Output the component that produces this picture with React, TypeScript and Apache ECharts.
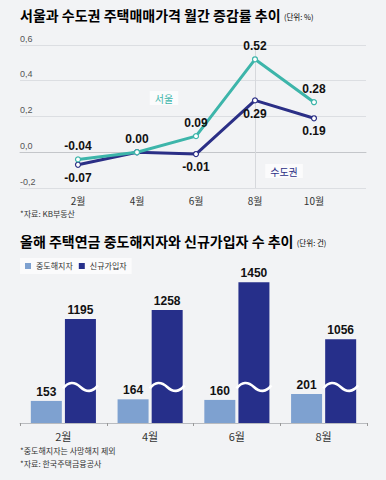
import React, { useEffect, useRef } from "react";
import * as echarts from "echarts";

// ---- Top chart data ----
const MONTHS = ["2월", "4월", "6월", "8월", "10월"];
const SEOUL = [-0.04, 0.0, 0.09, 0.52, 0.28];
const METRO = [-0.07, 0.0, -0.01, 0.29, 0.19];
const Y_MIN = -0.2;
const Y_MAX = 0.6;
const Y_STEP = 0.2;

// ---- Bottom chart data ----
const BAR_MONTHS = ["2월", "4월", "6월", "8월"];
const CANCELLED = [153, 164, 160, 201];
const NEW_JOINERS = [1195, 1258, 1450, 1056];
const BREAK_AT = 250; // where the wave is drawn on the broken bars
const BREAK_SHIFT = 475; // amount removed from the broken bars

const BG = "#f2f3f5";
const TEAL = "#3db5aa";
const NAVY = "#2b2f86";
const BAR_LIGHT = "#7ea1d0";
const BAR_DARK = "#262f8a";
const KR = '"Noto Sans CJK KR", "Noto Sans", sans-serif';
const NUM = '"Liberation Sans", Arial, "Noto Sans CJK KR", sans-serif';

const BAR_W = 31;
const BAR_GAP_RATIO = 0.1;

export default function App() {
  const ref = useRef<HTMLDivElement>(null);

  useEffect(() => {
    document.body.style.margin = "0";
    document.body.style.background = BG;
    if (!ref.current) return;
    const chart = echarts.init(ref.current, undefined, { renderer: "svg" });

    const numLabel = {
      fontFamily: NUM,
      fontWeight: "bold" as const,
      fontSize: 12,
      color: "#111",
    };

    const option: any = {
      animation: false,
      backgroundColor: BG,
      grid: [
        { left: 20, right: 20, top: 45, height: 143 },
        { left: 48.5, right: 42.5, top: 45, height: 143 },
        { left: 20, right: 19, top: 278.7, height: 144.3 },
      ],
      legend: {
        data: ["중도해지자", "신규가입자"],
        left: 20,
        top: 258,
        icon: "rect",
        itemWidth: 6,
        itemHeight: 6,
        itemGap: 6,
        padding: [4, 5, 4, 5],
        backgroundColor: "#fbfbfc",
        textStyle: { fontFamily: KR, fontSize: 8, color: "#333" },
        selectedMode: false,
      },
      xAxis: [
        {
          gridIndex: 0,
          type: "category",
          data: MONTHS,
          axisLine: { show: true, lineStyle: { color: "#c4c6ca", width: 1 } },
          axisTick: { show: false },
          axisLabel: { show: false },
          splitLine: { show: false },
        },
        {
          gridIndex: 1,
          type: "category",
          data: MONTHS,
          boundaryGap: true,
          axisLine: { show: false },
          axisTick: { show: false },
          axisLabel: { fontFamily: KR, fontSize: 10, color: "#333", margin: 7 },
          splitLine: { show: false },
        },
        {
          gridIndex: 2,
          type: "category",
          data: BAR_MONTHS,
          axisLine: { show: true, lineStyle: { color: "#b9bbbf", width: 1 } },
          axisTick: { show: true, length: 3, lineStyle: { color: "#999" } },
          axisLabel: { fontFamily: KR, fontSize: 11, color: "#333", margin: 7 },
        },
      ],
      yAxis: [
        {
          gridIndex: 0,
          type: "value",
          min: Y_MIN,
          max: Y_MAX,
          interval: Y_STEP,
          axisLine: { show: false },
          axisTick: { show: false },
          splitLine: { show: true, lineStyle: { color: "#dcdee2", width: 1 } },
          axisLabel: {
            inside: true,
            margin: 0,
            verticalAlign: "bottom",
            padding: [0, 0, 2, 0],
            fontFamily: NUM,
            fontSize: 9,
            color: "#555",
            formatter: (v: number) => {
              const s = Math.abs(v).toFixed(1).replace(".", ",");
              return (v < -1e-9 ? "-" : "") + s;
            },
          },
        },
        {
          gridIndex: 1,
          type: "value",
          min: Y_MIN,
          max: Y_MAX,
          interval: Y_STEP,
          show: false,
        },
        {
          gridIndex: 2,
          type: "value",
          min: 0,
          max: 1000,
          show: false,
        },
      ],
      series: [
        {
          name: "수도권",
          type: "line",
          xAxisIndex: 1,
          yAxisIndex: 1,
          data: METRO.map((v, i) => ({
            value: v,
            label: { show: i !== 1 },
          })),
          lineStyle: { color: NAVY, width: 3 },
          itemStyle: { color: "#fff", borderColor: NAVY, borderWidth: 1.2 },
          symbol: "circle",
          symbolSize: 5,
          z: 3,
          label: {
            show: true,
            position: "bottom",
            distance: 4,
            ...numLabel,
            formatter: (p: any) => p.value.toFixed(2),
          },
        },
        {
          name: "서울",
          type: "line",
          xAxisIndex: 1,
          yAxisIndex: 1,
          data: SEOUL,
          lineStyle: { color: TEAL, width: 3 },
          itemStyle: { color: "#fff", borderColor: TEAL, borderWidth: 1.2 },
          symbol: "circle",
          symbolSize: 5,
          z: 4,
          label: {
            show: true,
            position: "top",
            distance: 4,
            ...numLabel,
            formatter: (p: any) => p.value.toFixed(2),
          },
          markLine: {
            silent: true,
            symbol: "none",
            label: { show: false },
            lineStyle: { color: "#d6d8dc", width: 1, type: "solid" },
            data: [{ xAxis: "8월" }],
            z: 1,
          },
        },
        {
          name: "중도해지자",
          type: "bar",
          xAxisIndex: 2,
          yAxisIndex: 2,
          data: CANCELLED,
          barWidth: BAR_W,
          barGap: `${BAR_GAP_RATIO * 100}%`,
          itemStyle: { color: BAR_LIGHT },
          label: { show: true, position: "top", distance: 3, ...numLabel },
        },
        {
          name: "신규가입자",
          type: "bar",
          xAxisIndex: 2,
          yAxisIndex: 2,
          data: NEW_JOINERS.map((v) => ({ value: v - BREAK_SHIFT, raw: v })),
          barWidth: BAR_W,
          barGap: `${BAR_GAP_RATIO * 100}%`,
          itemStyle: { color: BAR_DARK },
          label: {
            show: true,
            position: "top",
            distance: 3,
            ...numLabel,
            formatter: (p: any) => String(NEW_JOINERS[p.dataIndex]),
          },
        },
        {
          name: "wave",
          type: "custom",
          xAxisIndex: 2,
          yAxisIndex: 2,
          silent: true,
          z: 5,
          data: BAR_MONTHS.map((_, i) => [i, BREAK_AT]),
          encode: { x: 0, y: 1 },
          renderItem: (params: any, api: any) => {
            const pt = api.coord([api.value(0), api.value(1)]);
            const off = (BAR_W + BAR_W * BAR_GAP_RATIO) / 2;
            const cx = pt[0] + off;
            const y = pt[1];
            const hw = 17.5;
            const d = `M${cx - hw} ${y + 1.5} C${cx - 12} ${y - 5.5} ${cx - 6} ${y - 5.5} ${cx} ${y} S${cx + 12} ${y + 5.5} ${cx + hw} ${y - 1.5}`;
            return {
              type: "path",
              shape: { pathData: d },
              style: { fill: "none", stroke: "#ffffff", lineWidth: 2.6 },
            };
          },
        },
      ],
      graphic: [
        {
          type: "text",
          left: 20,
          top: 8,
          style: {
            text: "{t|서울과 수도권 주택매매가격 월간 증감률 추이} {u|(단위: %)}",
            rich: {
              t: { fontFamily: KR, fontWeight: "bold", fontSize: 14, color: "#111" },
              u: { fontFamily: KR, fontSize: 7.5, color: "#444", padding: [3, 0, 0, 0] },
            },
          },
        },
        {
          type: "text",
          x: 164,
          y: 98,
          style: {
            text: "서울",
            fontFamily: KR,
            fontSize: 10,
            fill: TEAL,
            align: "center",
            verticalAlign: "middle",
            backgroundColor: "#fbfbfc",
            padding: [2, 5],
          },
        },
        {
          type: "text",
          x: 284,
          y: 171,
          style: {
            text: "수도권",
            fontFamily: KR,
            fontSize: 10,
            fill: NAVY,
            align: "center",
            verticalAlign: "middle",
            backgroundColor: "#fbfbfc",
            padding: [2, 5],
          },
        },
        {
          type: "text",
          x: 20,
          y: 213,
          style: {
            text: "*자료: KB부동산",
            fontFamily: KR,
            fontSize: 8,
            fill: "#333",
            verticalAlign: "middle",
          },
        },
        {
          type: "text",
          left: 20,
          top: 234,
          style: {
            text: "{t|올해 주택연금 중도해지자와 신규가입자 수 추이} {u|(단위: 건)}",
            rich: {
              t: { fontFamily: KR, fontWeight: "bold", fontSize: 14, color: "#111" },
              u: { fontFamily: KR, fontSize: 7.5, color: "#444", padding: [3, 0, 0, 0] },
            },
          },
        },
        {
          type: "text",
          x: 20,
          y: 450,
          style: {
            text: "*중도해지자는 사망해지 제외",
            fontFamily: KR,
            fontSize: 8,
            fill: "#333",
            verticalAlign: "middle",
          },
        },
        {
          type: "text",
          x: 20,
          y: 463,
          style: {
            text: "*자료: 한국주택금융공사",
            fontFamily: KR,
            fontSize: 8,
            fill: "#333",
            verticalAlign: "middle",
          },
        },
      ],
    };

    chart.setOption(option);
    return () => chart.dispose();
  }, []);

  return <div ref={ref} style={{ width: 386, height: 480, background: BG }} />;
}
